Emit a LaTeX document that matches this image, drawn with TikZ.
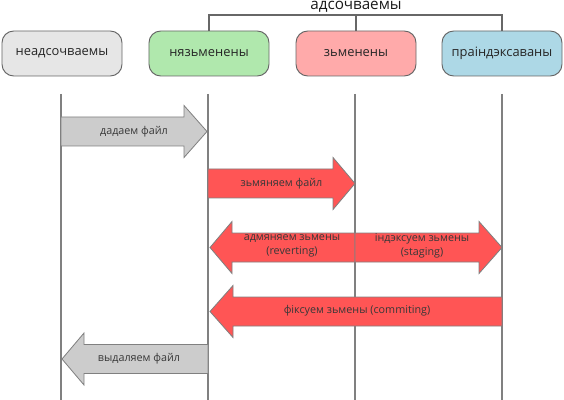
\documentclass[tikz,border=0pt]{standalone}
\usepackage{fontspec}
\setmainfont{Open Sans}
\definecolor{boxgray}{HTML}{E6E6E6}
\definecolor{boxgreen}{HTML}{B0E8AD}
\definecolor{boxred}{HTML}{FFAAAA}
\definecolor{boxblue}{HTML}{ADD8E6}
\definecolor{arrgray}{HTML}{CCCCCC}
\definecolor{arrred}{HTML}{FF5555}
\definecolor{linegray}{HTML}{808080}
\tikzset{
  statebox/.style={draw=linegray!80!black, line width=0.8pt, rounded corners=10pt,
    minimum width=3.6cm, minimum height=1.35cm, font=\fontsize{11}{13}\selectfont, text=black!85},
  lifeline/.style={draw=linegray, line width=1.6pt},
  grayarr/.style={fill=arrgray, draw=linegray, line width=0.7pt},
  redarr/.style={fill=arrred, draw=linegray, line width=0.7pt},
  arrlabel/.style={font=\fontsize{9.2}{12.5}\selectfont, text=black!78, align=center, inner sep=0pt}
}
\newcommand{\blockarr}[5]{%
  \draw[#1] (#2,{#4-14.5}) -- ({#3-(#5)},{#4-14.5}) -- ({#3-(#5)},{#4-26}) -- (#3,#4)
    -- ({#3-(#5)},{#4+26}) -- ({#3-(#5)},{#4+14.5}) -- (#2,{#4+14.5}) -- cycle;}
\begin{document}
\begin{tikzpicture}[x=0.03cm, y=-0.03cm]
  \useasboundingbox (0,0) rectangle (564,400);
  \node[statebox, fill=boxgray] (untracked) at (62,53.5) {неадсочваемы};
  \node[statebox, fill=boxgreen] (unmodified) at (209,53.5) {нязьменены};
  \node[statebox, fill=boxred] (modified) at (356,53.5) {зьменены};
  \node[statebox, fill=boxblue] (staged) at (502,53.5) {праіндэксаваны};
  \coordinate (top) at (356,15);
  \draw[linegray!80!black, line width=1.2pt] (unmodified.north) |- (top) -| (staged.north);
  \draw[linegray!80!black, line width=1.2pt] (modified.north) -- (top);
  \node[anchor=base, font=\fontsize{13}{15}\selectfont, text=black!90, inner sep=0pt] (tracked) at (356,9.5) {адсочваемы};
  \foreach \x in {61,208,355,502}
    \draw[lifeline] (\x,94) -- (\x,400);
  \blockarr{grayarr}{61}{207}{131.5}{23}
  \node[arrlabel] (add) at (134,131.5) {дадаем файл};
  \blockarr{redarr}{208}{355}{183.5}{22}
  \node[arrlabel] (edit) at (281.5,183.5) {зьмяняем файл};
  \blockarr{redarr}{355}{210}{247.5}{-22}
  \blockarr{redarr}{355}{502}{247.5}{23}
  \node[arrlabel] (revert) at (292,246) {адмяняем зьмены\\(reverting)};
  \node[arrlabel] (stage) at (422,246) {індэксуем зьмены\\(staging)};
  \blockarr{redarr}{502}{210}{311.5}{-23}
  \node[arrlabel] (commit) at (357,311) {фіксуем зьмены (commiting)};
  \blockarr{grayarr}{208}{62}{359}{-22}
  \node[arrlabel] (remove) at (139,359) {выдаляем файл};
\end{tikzpicture}
\end{document}
